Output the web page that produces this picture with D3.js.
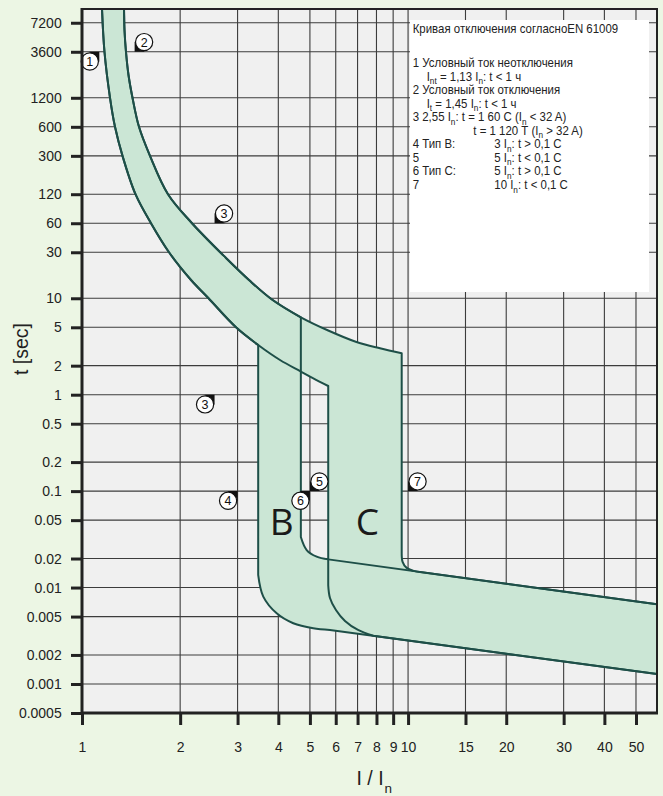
<!DOCTYPE html>
<html>
<head>
<meta charset="utf-8">
<script src="https://cdn.jsdelivr.net/npm/d3@7"></script>
<style>
  html, body { margin: 0; padding: 0; background: #ecf6e4; }
  svg { display: block; }
</style>
</head>
<body>
<svg id="chart" width="663" height="796"></svg>
<script>
// ---- Data -------------------------------------------------------------
// Tick values (multiples of the rated current, trip time in seconds)
const xTicks = [1, 2, 3, 4, 5, 6, 7, 8, 9, 10, 15, 20, 30, 40, 50];
const yTicks = [7200, 3600, 1200, 600, 300, 120, 60, 30, 10, 5, 2, 1, 0.5,
                0.2, 0.1, 0.05, 0.02, 0.01, 0.005, 0.002, 0.001, 0.0005];

// Thermal release band: lower (fastest) and upper (slowest) limit [I/In, t]
const thermalLower = [[1.150, 12000], [1.1517, 10000], [1.172, 3600], [1.2187, 1200],
  [1.2623, 600], [1.331, 300], [1.4589, 120], [1.6276, 60], [1.8483, 30], [2.1595, 15.47],
  [2.4434, 10], [2.967, 5], [3.47, 3.277], [4.048, 2.291], [4.69, 1.74], [5.122, 1.479],
  [5.69, 1.231]];
const thermalUpper = [[1.343, 12000], [1.3453, 10000], [1.35, 6056], [1.3642, 3600],
  [1.3887, 2068], [1.4285, 1200], [1.4955, 600], [1.6164, 300], [1.8353, 120], [2.1747, 60],
  [2.7646, 26.17], [3.2521, 15.47], [3.8247, 9.712], [4.69, 6.35], [5.69, 4.633],
  [6.91, 3.545], [8.201, 3.028], [9.56, 2.688]];

// Magnetic release columns: [left edge, right edge] in I/In
const tripB = [3.47, 4.69];
const tripC = [5.69, 9.56];

// Instantaneous-trip limits at high current (both end at the right border)
const fastLimitEnd = [58, 0.00127];
const slowLimitEnd = [58, 0.0067];

// Rounded corners joining the columns to the instantaneous limits
const bLowerCorner = [[3.47, 0.0135], [3.597, 0.00804], [3.954, 0.0054], [4.446, 0.00426],
  [5.118, 0.00378], [5.761, 0.00363]];
const bUpperCorner = [[5.69, 0.0196], [5.245, 0.0209], [4.887, 0.0245], [4.69, 0.0334]];
const cLowerCorner = [[5.69, 0.0106], [5.761, 0.0078], [6.009, 0.00585], [6.406, 0.0045],
  [7.022, 0.00363], [7.82, 0.00316]];
const cUpperCorner = [[11, 0.0144], [10.4, 0.0149], [9.9, 0.016], [9.62, 0.0185], [9.56, 0.0227]];

// Band names and where their letters sit [name, I/In, t]
const bandLabels = [["B", 4.1, 0.035], ["C", 7.5, 0.035]];

// Numbered test points: [number, I/In, t, circle direction x, circle direction y]
const testPoints = [
  [1, 1.13, 3600, -1, 1],
  [2, 1.45, 3600, 1, -1],
  [3, 2.55, 60, 1, -1],
  [3, 2.55, 1, -1, 1],
  [4, 3, 0.1, -1, 1],
  [5, 5, 0.1, 1, -1],
  [6, 5, 0.1, -1, 1],
  [7, 10, 0.1, 1, -1]
];

// Legend lines: [column x, text]; _{..} marks a subscript
const legendTitle = "Кривая отключения согласноEN 61009";
const legendRows = [
  [[412.7, "1 Условный ток неотключения"]],
  [[426.7, "I_{nt} = 1,13 I_{n}: t < 1 ч"]],
  [[412.7, "2 Условный ток отключения"]],
  [[426.7, "I_{t} = 1,45 I_{n}: t < 1 ч"]],
  [[412.7, "3 2,55 I_{n}: t = 1 60 С (I_{n} < 32 A)"]],
  [[473.3, "t = 1 120 Т (I_{n} > 32 A)"]],
  [[412.7, "4 Тип B:"], [494.3, "3 I_{n}: t > 0,1 С"]],
  [[412.7, "5"], [494.3, "5 I_{n}: t < 0,1 С"]],
  [[412.7, "6 Тип C:"], [494.3, "5 I_{n}: t > 0,1 С"]],
  [[412.7, "7"], [494.3, "10 I_{n}: t < 0,1 С"]]
];

// ---- Layout -------------------------------------------------------------
const W = 663, H = 796;
const plot = { left: 82, right: 657, top: 9, bottom: 713 };
const INK = "#222";
const BAND_FILL = "#cbe6d5";
const BAND_STROKE = "#1e4f48";

const svg = d3.select("#chart");

const x = d3.scaleLog().domain([1, 58]).range([plot.left, plot.right]);
const y = d3.scaleLog().domain([0.0005, 10000]).range([plot.bottom, plot.top]);

svg.append("rect").attr("width", W).attr("height", H).attr("fill", "#ecf6e4");

svg.append("defs").append("clipPath").attr("id", "plot-clip")
  .append("rect")
  .attr("x", plot.left).attr("y", plot.top)
  .attr("width", plot.right - plot.left).attr("height", plot.bottom - plot.top);

svg.append("rect")
  .attr("x", plot.left).attr("y", plot.top)
  .attr("width", plot.right - plot.left).attr("height", plot.bottom - plot.top)
  .attr("fill", "#f0f0f0");

// grid
const grid = svg.append("g").attr("stroke", "#3c3c3c").attr("stroke-width", 1.1);
grid.selectAll("line.v").data(xTicks.slice(1)).join("line")
  .attr("x1", d => x(d)).attr("x2", d => x(d))
  .attr("y1", plot.top).attr("y2", plot.bottom);
grid.selectAll("line.h").data(yTicks).join("line")
  .attr("x1", plot.left).attr("x2", plot.right)
  .attr("y1", d => y(d)).attr("y2", d => y(d));

// legend panel
svg.append("rect")
  .attr("x", 410).attr("y", 20).attr("width", 239).attr("height", 272)
  .attr("fill", "#fff");

function richText(sel, str, size) {
  const parts = str.split(/(_\{[^}]*\})/).filter(s => s.length);
  let shifted = false;
  parts.forEach(p => {
    if (p.startsWith("_{")) {
      sel.append("tspan").attr("font-size", size * 0.72).attr("dy", size * 0.3)
        .text(p.slice(2, -1));
      shifted = true;
    } else {
      const t = sel.append("tspan").text(p);
      if (shifted) { t.attr("dy", -size * 0.3); shifted = false; }
    }
  });
}

// Legend text is set in a horizontally condensed sans
const LEG_FONT = "'Liberation Sans', Arial, sans-serif";
const LEG_SIZE = 12;
const legX = 412.7;
const legText = svg.append("g");
const title = legText.append("text")
  .attr("x", 0).attr("y", 33.5)
  .attr("font-family", LEG_FONT).attr("font-size", LEG_SIZE).attr("fill", INK)
  .text(legendTitle);
const squeeze = Math.min(1, 205.6 / title.node().getComputedTextLength());
legText.attr("transform", `translate(${legX},0) scale(${squeeze},1)`);
legendRows.forEach((row, i) => {
  row.forEach(([cx, str]) => {
    const t = legText.append("text")
      .attr("x", (cx - legX) / squeeze).attr("y", 67 + i * 13.55)
      .attr("font-family", LEG_FONT).attr("font-size", LEG_SIZE).attr("fill", INK);
    richText(t, str, LEG_SIZE);
  });
});

// ---- Bands -----------------------------------------------------------
const smooth = d3.line().x(d => x(d[0])).y(d => y(d[1])).curve(d3.curveCatmullRom.alpha(0.5));
const straight = d3.line().x(d => x(d[0])).y(d => y(d[1]));

function joinPieces(pieces) {
  return pieces.map((p, i) => {
    const s = p[0](p[1]);
    return i === 0 ? s : "L" + s.slice(1);
  }).join("") + "Z";
}

function bandPath(trip, lowerCorner, upperCorner) {
  const lower = thermalLower.filter(d => d[0] <= trip[0] + 1e-9);
  const upper = thermalUpper.filter(d => d[0] <= trip[1] + 1e-9).slice().reverse();
  return joinPieces([
    [smooth, lower],
    [smooth, lowerCorner],
    [straight, [fastLimitEnd, slowLimitEnd]],
    [smooth, upperCorner],
    [smooth, upper]
  ]);
}

const bands = [
  bandPath(tripB, bLowerCorner, bUpperCorner),
  bandPath(tripC, cLowerCorner, cUpperCorner)
];

const bandLayer = svg.append("g").attr("clip-path", "url(#plot-clip)");
bandLayer.selectAll("path.fill").data(bands).join("path")
  .attr("class", "fill").attr("d", d => d).attr("fill", BAND_FILL);
bandLayer.selectAll("path.edge").data(bands).join("path")
  .attr("class", "edge").attr("d", d => d)
  .attr("fill", "none").attr("stroke", BAND_STROKE).attr("stroke-width", 2)
  .attr("stroke-linejoin", "round");

svg.append("g").selectAll("text").data(bandLabels).join("text")
  .attr("x", d => x(d[1])).attr("y", d => y(d[2]))
  .attr("text-anchor", "middle")
  .attr("font-family", "'Open Sans', 'Noto Sans', sans-serif")
  .attr("font-size", 37).attr("fill", "#1a1a1a")
  .text(d => d[0]);

// ---- Numbered points ---------------------------------------------------
const mk = svg.append("g");
testPoints.forEach(([n, ix, t, sx, sy]) => {
  const px = x(ix), py = y(t);
  mk.append("path")
    .attr("d", `M${px},${py}L${px + sx * 10},${py}L${px},${py + sy * 10}Z`)
    .attr("fill", "#111");
  mk.append("circle")
    .attr("cx", px + sx * 9.5).attr("cy", py + sy * 9.7).attr("r", 8.6)
    .attr("fill", "#fff").attr("stroke", "#111").attr("stroke-width", 1.2);
  mk.append("text")
    .attr("x", px + sx * 9.5).attr("y", py + sy * 9.7).attr("dy", "0.36em")
    .attr("text-anchor", "middle")
    .attr("font-family", "'Liberation Sans', Arial, sans-serif")
    .attr("font-size", 12.5).attr("fill", "#111")
    .text(n);
});

// ---- Frame and axes ------------------------------------------------------
svg.append("rect")
  .attr("x", plot.left).attr("y", plot.top)
  .attr("width", plot.right - plot.left).attr("height", plot.bottom - plot.top)
  .attr("fill", "none").attr("stroke", INK).attr("stroke-width", 2);
svg.append("line")
  .attr("x1", plot.left).attr("x2", plot.left).attr("y1", plot.top - 1).attr("y2", plot.bottom + 1)
  .attr("stroke", INK).attr("stroke-width", 3);
svg.append("line")
  .attr("x1", plot.left - 1).attr("x2", plot.right + 1).attr("y1", plot.bottom).attr("y2", plot.bottom)
  .attr("stroke", INK).attr("stroke-width", 3);

const AX_FONT = "'Liberation Sans', Arial, sans-serif";

const yAxis = svg.append("g")
  .attr("transform", `translate(${plot.left},0)`)
  .call(d3.axisLeft(y).tickValues(yTicks).tickFormat(d => String(d))
    .tickSize(11).tickPadding(9.3));
yAxis.select(".domain").remove();
yAxis.selectAll(".tick line").attr("stroke", INK).attr("stroke-width", 3);
yAxis.selectAll(".tick text").attr("font-family", AX_FONT).attr("font-size", 14).attr("fill", INK);

const xAxis = svg.append("g")
  .attr("transform", `translate(0,${plot.bottom})`)
  .call(d3.axisBottom(x).tickValues(xTicks).tickFormat(d => String(d))
    .tickSize(12).tickPadding(16.7));
xAxis.select(".domain").remove();
xAxis.selectAll(".tick line").attr("stroke", INK).attr("stroke-width", 3);
xAxis.selectAll(".tick text").attr("font-family", AX_FONT).attr("font-size", 14).attr("fill", INK);

// axis titles
svg.append("text")
  .attr("transform", "translate(28,349) rotate(-90)")
  .attr("text-anchor", "middle")
  .attr("font-family", AX_FONT).attr("font-size", 19.5).attr("fill", INK)
  .text("t [sec]");

const xt = svg.append("text")
  .attr("x", 356.5).attr("y", 785)
  .attr("font-family", AX_FONT).attr("font-size", 19.5).attr("fill", INK);
xt.append("tspan").text("I / I");
xt.append("tspan").attr("font-size", 13.5).attr("dy", 8).attr("dx", 1).text("n");
</script>
</body>
</html>
